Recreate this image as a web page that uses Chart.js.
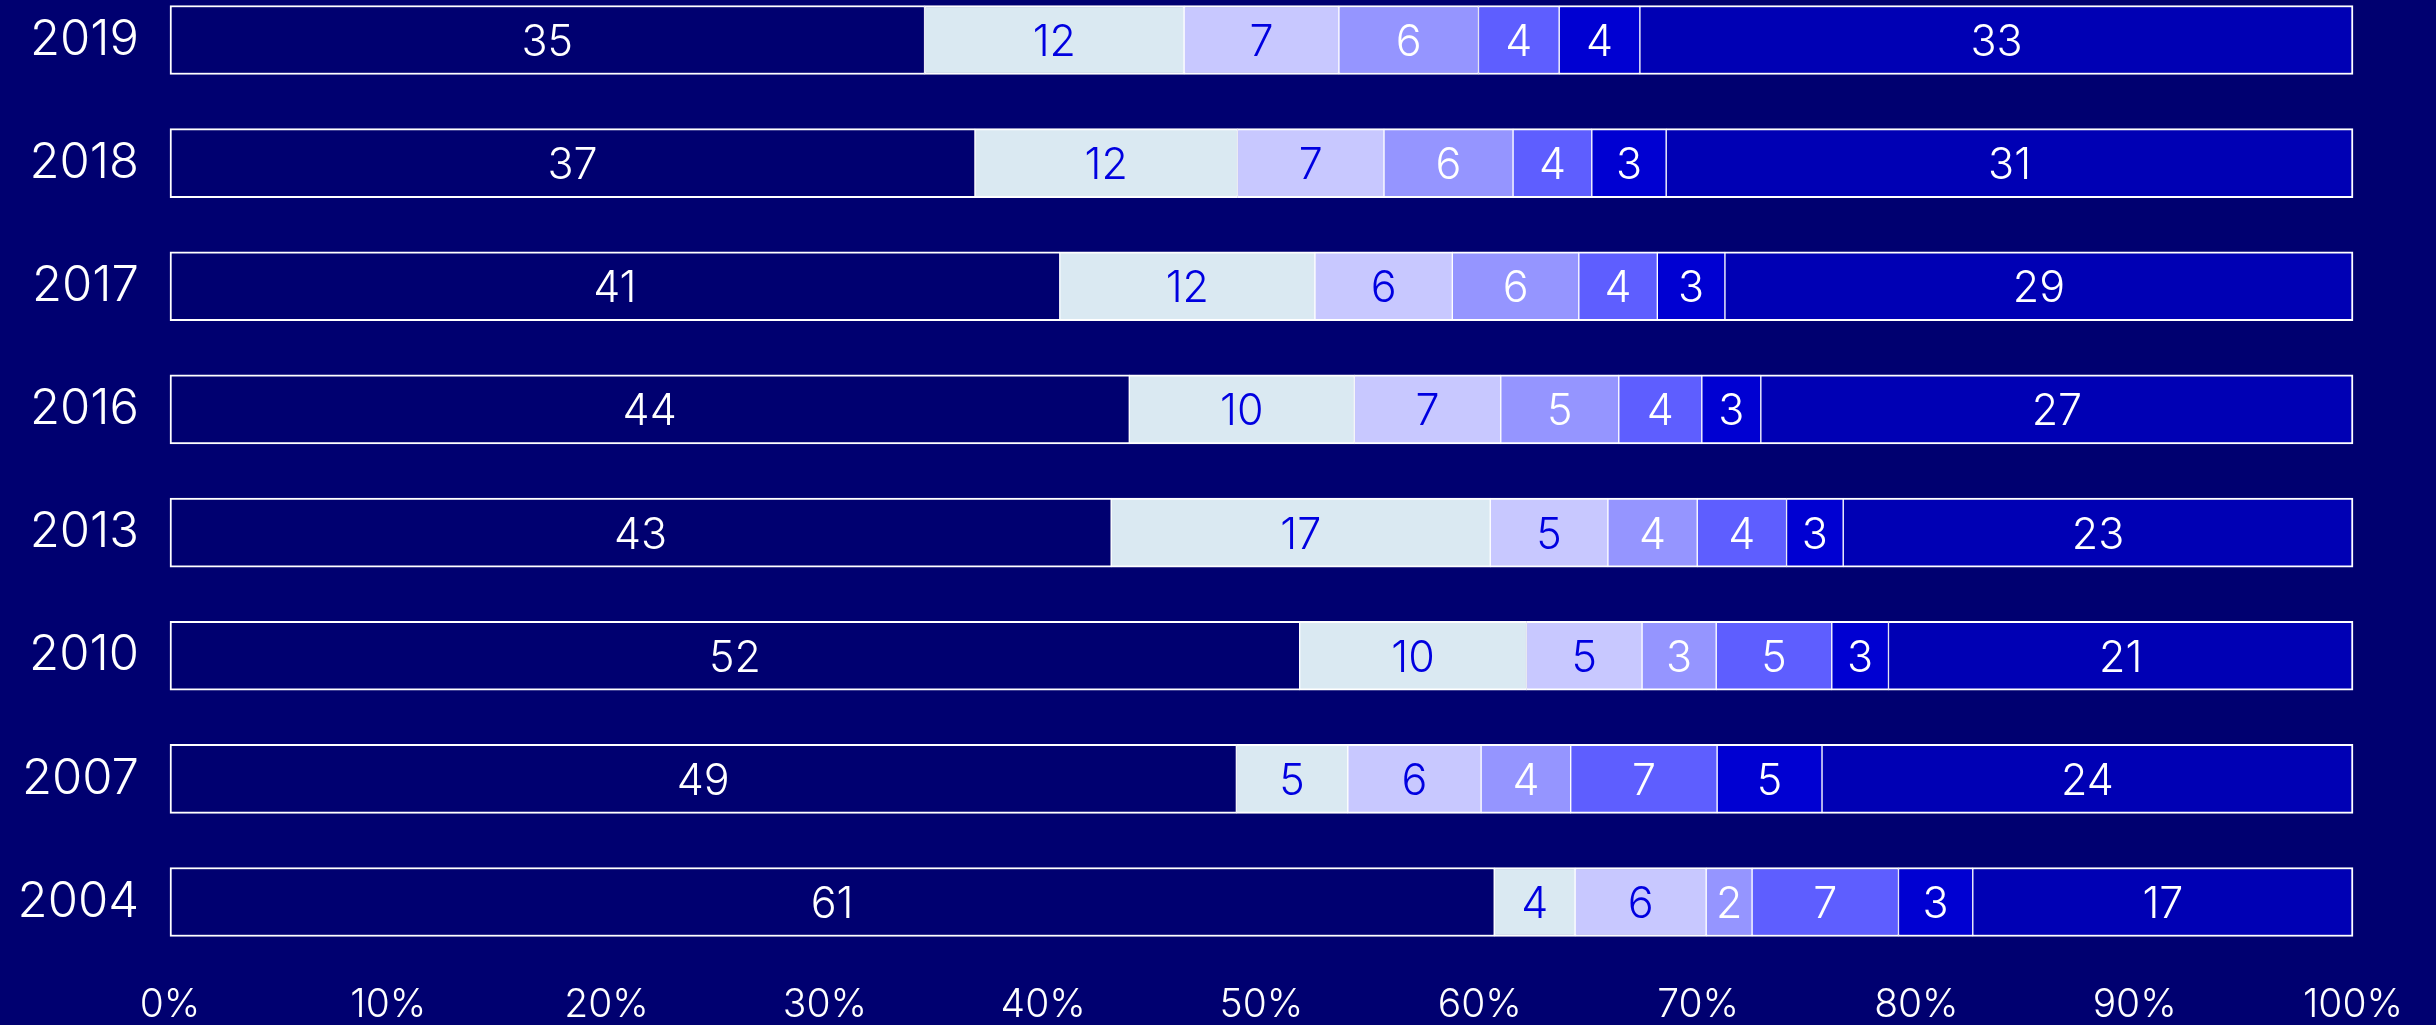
<!DOCTYPE html>
<html>
<head>
<meta charset="utf-8">
<script src="https://cdn.jsdelivr.net/npm/chart.js@4.4.1/dist/chart.umd.min.js"></script>
<style>
  html, body { margin: 0; padding: 0; background: #000070; }
  #wrap { width: 2436px; height: 1025px; }
</style>
</head>
<body>
<div id="wrap"><canvas id="c" width="2436" height="1025"></canvas></div>
<script>
const years = ['2019', '2018', '2017', '2016', '2013', '2010', '2007', '2004'];
const seg1 = [34.6, 36.8, 40.8, 43.9, 43.2, 51.8, 48.8, 60.6];
const seg2 = [11.9, 12.0, 11.7, 10.3, 17.4, 10.4, 5.1, 3.7];
const seg3 = [7.1, 6.7, 6.3, 6.7, 5.4, 5.3, 6.1, 6.0];
const seg4 = [6.4, 5.9, 5.8, 5.4, 4.1, 3.4, 4.1, 2.1];
const seg5 = [3.7, 3.6, 3.6, 3.8, 4.1, 5.3, 6.7, 6.7];
const seg6 = [3.7, 3.4, 3.1, 2.7, 2.6, 2.6, 4.8, 3.4];
const seg7 = [32.7, 31.4, 28.8, 27.1, 23.4, 21.3, 24.3, 17.4];
const xTicks = [0, 10, 20, 30, 40, 50, 60, 70, 80, 90, 100];

const series = [seg1, seg2, seg3, seg4, seg5, seg6, seg7];
const fills = ['#000070', '#DAE9F2', '#C8C8FF', '#9595FF', '#5E5EFF', '#0000D2', '#0000B4'];
const labelColors = ['#FFFFFF', '#0000E0', '#0000E0', '#FFFFFF', '#FFFFFF', '#FFFFFF', '#FFFFFF'];
const FONT = 'Inter';

const totals = years.map((_, i) => series.reduce((s, arr) => s + arr[i], 0));

const datasets = series.map((arr, k) => ({
  label: 'S' + (k + 1),
  data: arr.map((v, i) => v / totals[i] * 100),
  raw: arr,
  backgroundColor: fills[k],
  borderColor: '#FFFFFF',
  borderWidth: { top: 2, bottom: 2, left: k === 0 ? 2 : 1, right: k === series.length - 1 ? 2 : 1 },
  borderSkipped: false,
  barThickness: 69,
  clip: false
}));

const bgPlugin = {
  id: 'bg',
  beforeDraw(chart) {
    const ctx = chart.ctx;
    ctx.save();
    ctx.fillStyle = '#000070';
    ctx.fillRect(0, 0, chart.width, chart.height);
    ctx.restore();
  }
};

const valuePlugin = {
  id: 'values',
  afterDatasetsDraw(chart) {
    const ctx = chart.ctx;
    ctx.save();
    ctx.font = '300 43px ' + FONT;
    ctx.textAlign = 'center';
    ctx.textBaseline = 'alphabetic';
    chart.data.datasets.forEach((ds, k) => {
      const meta = chart.getDatasetMeta(k);
      meta.data.forEach((el, i) => {
        const p = el.getCenterPoint();
        ctx.fillStyle = labelColors[k];
        ctx.fillText(String(Math.round(ds.raw[i])), p.x, p.y + 16);
      });
    });
    ctx.restore();
  }
};

function zeroPad(scale) {
  scale.paddingLeft = 0; scale.paddingRight = 0;
  scale.paddingTop = 0; scale.paddingBottom = 0;
}

new Chart(document.getElementById('c'), {
  type: 'bar',
  data: { labels: years, datasets },
  options: {
    indexAxis: 'y',
    responsive: false,
    animation: false,
    devicePixelRatio: 1,
    layout: { padding: { left: 0, right: 83, top: 40, bottom: 0 } },
    plugins: { legend: { display: false }, tooltip: { enabled: false } },
    scales: {
      x: {
        stacked: true,
        min: 0,
        max: 100,
        afterBuildTicks(scale) { scale.ticks = xTicks.map(v => ({ value: v })); },
        afterFit(scale) { scale.height = 123; zeroPad(scale); },
        grid: { display: false, drawTicks: false },
        border: { display: false },
        ticks: {
          color: '#FFFFFF',
          font: { family: FONT, size: 39, weight: '300' },
          padding: 80,
          maxRotation: 0,
          autoSkip: false,
          callback: v => v + '%'
        }
      },
      y: {
        stacked: true,
        offset: false,
        afterFit(scale) { scale.width = 170; zeroPad(scale); },
        grid: { display: false, drawTicks: false },
        border: { display: false },
        ticks: {
          color: '#FFFFFF',
          font: { family: FONT, size: 49, weight: '300' },
          padding: 31
        }
      }
    }
  },
  plugins: [bgPlugin, valuePlugin]
});
</script>
</body>
</html>
